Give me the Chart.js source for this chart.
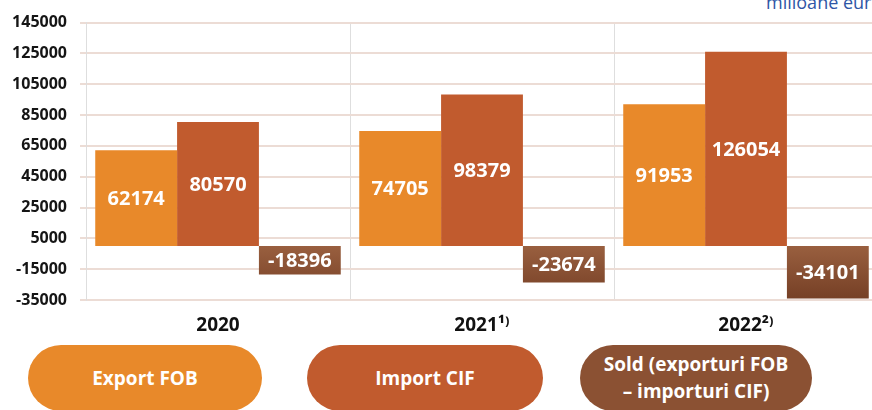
<!DOCTYPE html>
<html>
<head>
<meta charset="utf-8">
<script src="https://cdn.jsdelivr.net/npm/chart.js@4/dist/chart.umd.min.js"></script>
<style>
  html, body { margin: 0; padding: 0; background: #fff; overflow: hidden; }
  body { width: 872px; height: 410px; position: relative; font-family: "Open Sans", sans-serif; }
  #wrap { position: absolute; left: 0; top: 0; width: 880px; height: 340px; }
  #unit { position: absolute; left: 766px; top: -10px; font-size: 18px; line-height: 24px; color: #2e56a6; white-space: nowrap; }
  .pill {
    position: absolute; top: 345px; height: 66px; border-radius: 33px;
    display: flex; align-items: center; justify-content: center; text-align: center;
    color: #fff; font-weight: 700; font-size: 19px; line-height: 27px;
  }
  .pill.p0 { left: 28px; width: 234px; }
  .pill.p1 { left: 307px; width: 236px; }
  .pill.p2 { left: 580px; width: 232px; }
</style>
</head>
<body>
<div id="unit">milioane euro</div>
<div id="wrap"><canvas id="trade-chart"></canvas></div>
<div id="legend"></div>
<script>
// Balanta comerciala FOB/CIF, milioane euro
const years = ['2020', '2021', '2022'];
const yearNotes = ['', '\u00b9\u207e', '\u00b2\u207e'];
const exportFob = [62174, 74705, 91953];
const importCif = [80570, 98379, 126054];
const soldBalance = [-18396, -23674, -34101];
const seriesNames = ['Export FOB', 'Import CIF', 'Sold (exporturi FOB<br>\u2013 importuri CIF)'];
const seriesColors = ['#e8892a', '#c15b2e', '#8b5133'];
const yMin = -35000, yMax = 145000, yStep = 20000;

// Sold bars fade slightly darker toward the bottom
function soldFill(context) {
  const chart = context.chart;
  const area = chart.chartArea;
  if (!area) return seriesColors[2];
  const zero = chart.scales.y.getPixelForValue(0);
  const g = chart.ctx.createLinearGradient(0, zero, 0, area.bottom);
  g.addColorStop(0, '#995f3f');
  g.addColorStop(1, '#753f25');
  return g;
}

// White value labels in the middle of each bar
const barValues = {
  id: 'barValues',
  afterDatasetsDraw(chart) {
    const ctx = chart.ctx;
    ctx.save();
    ctx.font = 'bold 20px "Open Sans"';
    ctx.fillStyle = '#fff';
    ctx.textAlign = 'center';
    ctx.textBaseline = 'middle';
    chart.data.datasets.forEach((ds, i) => {
      chart.getDatasetMeta(i).data.forEach((bar, j) => {
        ctx.fillText(String(ds.data[j]), bar.x, (bar.y + bar.base) / 2 + 1);
      });
    });
    ctx.restore();
  }
};

const gridPink = '#ecdcd5';
const gridGray = '#dedede';

new Chart(document.getElementById('trade-chart'), {
  type: 'bar',
  data: {
    labels: years,
    datasets: [
      { label: 'Export FOB', data: exportFob, backgroundColor: seriesColors[0] },
      { label: 'Import CIF', data: importCif, backgroundColor: seriesColors[1] },
      { label: 'Sold', data: soldBalance, backgroundColor: soldFill }
    ]
  },
  options: {
    responsive: true,
    maintainAspectRatio: false,
    animation: false,
    barPercentage: 1,
    categoryPercentage: 0.93,
    layout: { padding: { top: 18, right: 2, left: 0, bottom: 0 } },
    plugins: {
      legend: { display: false },
      tooltip: { enabled: false }
    },
    scales: {
      x: {
        grid: { color: gridGray, drawTicks: false, offset: true },
        border: { color: gridPink, width: 2 },
        ticks: {
          padding: 14,
          color: '#111',
          font: { family: 'Open Sans', weight: 'bold', size: 19 },
          callback: (v, i) => years[i] + yearNotes[i]
        },
        afterFit: scale => { scale.height = 40; }
      },
      y: {
        min: yMin,
        max: yMax,
        grid: { color: gridPink, lineWidth: 2, tickLength: 6 },
        border: { color: gridGray },
        ticks: {
          stepSize: yStep,
          padding: 13,
          color: '#151515',
          font: { family: 'Open Sans', weight: 'bold', size: 16 },
          callback: v => String(v)
        },
        afterFit: scale => { scale.width = 86; }
      }
    }
  },
  plugins: [barValues]
});

// Pill-shaped legend under the chart
const legend = document.getElementById('legend');
seriesNames.forEach((name, i) => {
  const pill = document.createElement('div');
  pill.className = 'pill p' + i;
  pill.style.background = seriesColors[i];
  pill.innerHTML = name;
  legend.appendChild(pill);
});
</script>
</body>
</html>
